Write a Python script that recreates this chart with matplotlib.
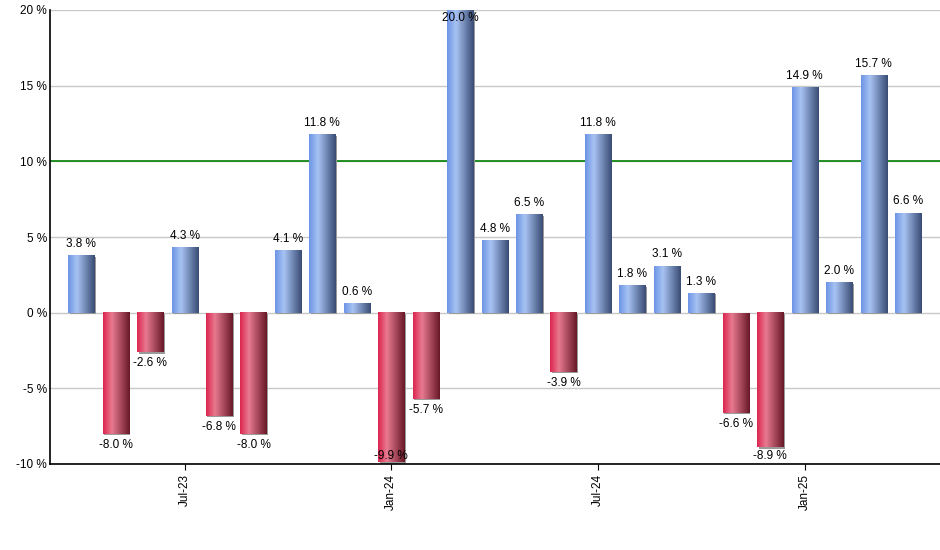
import matplotlib
matplotlib.use("Agg")
import matplotlib.pyplot as plt
import matplotlib.transforms as mtransforms
from matplotlib.colors import LinearSegmentedColormap
import numpy as np

months = ["Apr-23", "May-23", "Jun-23", "Jul-23", "Aug-23", "Sep-23", "Oct-23", "Nov-23",
          "Dec-23", "Jan-24", "Feb-24", "Mar-24", "Apr-24", "May-24", "Jun-24", "Jul-24",
          "Aug-24", "Sep-24", "Oct-24", "Nov-24", "Dec-24", "Jan-25", "Feb-25", "Mar-25", "Apr-25"]
values = [3.8, -8.0, -2.6, 4.3, -6.8, -8.0, 4.1, 11.8, 0.6, -9.9, -5.7, 20.0, 4.8, 6.5,
          -3.9, 11.8, 1.8, 3.1, 1.3, -6.6, -8.9, 14.9, 2.0, 15.7, 6.6]
tick_labels = ["Jul-23", "Jan-24", "Jul-24", "Jan-25"]
y_ticks = [-10, -5, 0, 5, 10, 15, 20]
target = 10

plt.rcParams['font.family'] = ['Liberation Sans', 'DejaVu Sans']

fig = plt.figure(figsize=(9.4, 5.5), dpi=100)
ax = fig.add_axes([50/940, 1-464/550, 1-50/940, (464-10)/550])

blue_cmap = LinearSegmentedColormap.from_list("b", [(0, "#6d95e6"), (0.33, "#a8c3f3"), (1.0, "#394c74")])
red_cmap = LinearSegmentedColormap.from_list("r", [(0, "#dc2650"), (0.33, "#e87a90"), (1.0, "#681828")])
grad = np.linspace(0, 1, 64).reshape(1, -1)

ymin, ymax = -10, 20
width = 0.755
x = np.arange(len(values))
shadow_tr = mtransforms.offset_copy(ax.transData, fig=fig, x=1.5, y=-1.5, units='dots')

for xi, v in zip(x, values):
    x0 = xi - width/2
    lo, hi = min(0, v), max(0, v)
    # shadow
    ax.add_patch(plt.Rectangle((x0, lo), width, hi - lo, transform=shadow_tr,
                               facecolor="#9a9a9a", edgecolor="none", zorder=2))
    cmap = blue_cmap if v >= 0 else red_cmap
    ax.imshow(grad, cmap=cmap, extent=[x0, x0 + width, lo, hi], aspect='auto',
              interpolation='bilinear', zorder=3)
    # label
    off = 0.75
    if v >= 0:
        ly = min(v + off, ymax - 0.55)
    else:
        ly = max(v - off, ymin + 0.55)
    ax.text(xi, ly, f"{v:.1f} %", ha='center', va='center', fontsize=8.5, color='black', zorder=5)

ax.axhline(target, color="#008000", lw=1.2, zorder=1.5)

ax.set_xlim(-0.906, 24.93)
ax.set_ylim(ymin, ymax)
ax.set_yticks(y_ticks)
ax.set_yticklabels([f"{t} %" for t in y_ticks], fontsize=8.5)
ax.tick_params(axis='y', length=0, pad=2)
ax.set_xticks([months.index(t) for t in tick_labels])
ax.set_xticklabels(tick_labels, rotation=90, fontsize=8.5)
ax.tick_params(axis='x', length=4, direction='out', pad=3, color='black')
ax.grid(axis='y', color="#c8c8c8", lw=1, zorder=0)
ax.set_axisbelow(True)
for s in ['top', 'right']:
    ax.spines[s].set_visible(False)
for s in ['left', 'bottom']:
    ax.spines[s].set_color('black')
    ax.spines[s].set_linewidth(1.2)

fig.savefig("out.png", dpi=100)
